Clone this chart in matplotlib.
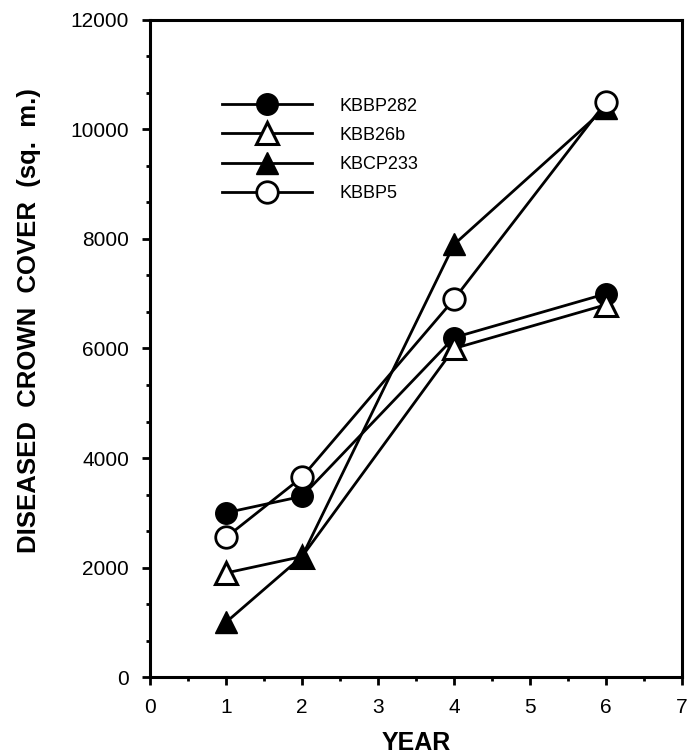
import matplotlib.pyplot as plt
from matplotlib.ticker import MultipleLocator

plt.rcParams['font.family'] = ['Liberation Sans', 'DejaVu Sans']

# years sampled
years = [1, 2, 4, 6]

# diseased crown cover (sq. m.) per clone
kbbp282 = [3000, 3300, 6200, 7000]
kbb26b = [1900, 2200, 6000, 6800]
kbcp233 = [1000, 2200, 7900, 10400]
kbbp5 = [2550, 3650, 6900, 10500]

labels = ['KBBP282', 'KBB26b', 'KBCP233', 'KBBP5']

fig = plt.figure(figsize=(6.96, 7.54), dpi=100)
ax = fig.add_axes([0.2155, 0.1021, 0.7645, 0.8714])

lw = 2
ms = 15.5
ax.plot(years, kbbp282, color='black', lw=lw, marker='o', ms=ms,
        mfc='black', mec='black', label=labels[0], zorder=3)
ax.plot(years, kbb26b, color='black', lw=lw, marker='^', ms=ms,
        mfc='white', mec='black', mew=2.2, label=labels[1], zorder=3)
ax.plot(years, kbcp233, color='black', lw=lw, marker='^', ms=ms,
        mfc='black', mec='black', label=labels[2], zorder=3)
ax.plot(years, kbbp5, color='black', lw=lw, marker='o', ms=ms,
        mfc='white', mec='black', mew=2, label=labels[3], zorder=4)

ax.set_xlim(0, 7)
ax.set_ylim(0, 12000)
ax.xaxis.set_major_locator(MultipleLocator(1))
ax.xaxis.set_minor_locator(MultipleLocator(0.5))
ax.yaxis.set_major_locator(MultipleLocator(2000))
ax.yaxis.set_minor_locator(MultipleLocator(2000 / 3))

for s in ax.spines.values():
    s.set_linewidth(2.2)
ax.tick_params(which='major', direction='out', length=6, width=2,
               labelsize=15, pad=9)
ax.tick_params(which='minor', direction='out', length=3, width=2)

ax.set_xlabel('YEAR', fontsize=18, fontweight='bold', labelpad=10)
ax.set_ylabel('DISEASED  CROWN  COVER  (sq.  m.)', fontsize=18.5,
              fontweight='bold')
ax.yaxis.set_label_coords(-0.205, 0.542)

leg = ax.legend(loc='upper left', bbox_to_anchor=(0.135, 0.882),
                frameon=False, numpoints=1, handlelength=5,
                handletextpad=1.5, labelspacing=0.68, borderpad=0,
                borderaxespad=0, fontsize=13)

fig.savefig('out.png', dpi=100)
